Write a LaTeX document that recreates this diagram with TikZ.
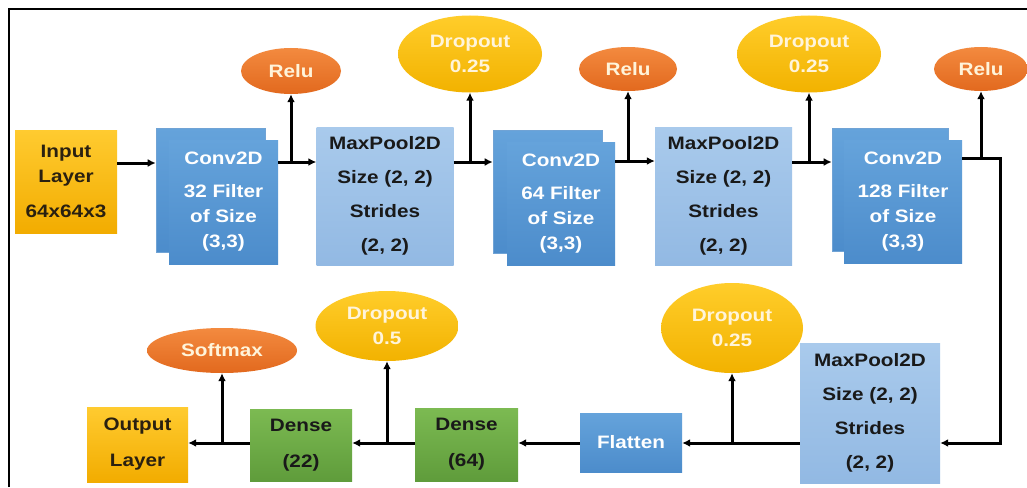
\documentclass[tikz,border=0pt]{standalone}
\usepackage{fontspec}
\setmainfont[FakeStretch=1.15]{Liberation Sans}
\usetikzlibrary{arrows.meta,shapes.geometric}
\definecolor{goldT}{HTML}{FFCB30}
\definecolor{goldB}{HTML}{F2AC00}
\definecolor{convT}{HTML}{65A3DB}
\definecolor{convB}{HTML}{4C8CCB}
\definecolor{poolT}{HTML}{A9CAEC}
\definecolor{poolB}{HTML}{92B9E3}
\definecolor{grnT}{HTML}{7CBA52}
\definecolor{grnB}{HTML}{5F9C3B}
\definecolor{oraT}{HTML}{F38A3F}
\definecolor{oraB}{HTML}{E2691E}
\definecolor{ylwT}{HTML}{FFCD2A}
\definecolor{ylwB}{HTML}{F2B200}
\definecolor{pale}{HTML}{FFF4DA}
\definecolor{darktxt}{HTML}{2A2010}
\tikzset{
  txt/.style={font=\bfseries\fontsize{18}{25}\selectfont, align=center, inner sep=0pt},
  blk/.style={txt, rectangle, draw=none},
  gold/.style={blk, top color=goldT, bottom color=goldB, text=darktxt},
  conv/.style={blk, top color=convT, bottom color=convB, text=white},
  convback/.style={blk, top color=convT, bottom color=convB, draw=convB!80!white, line width=0.6pt},
  pool/.style={blk, top color=poolT, bottom color=poolB, text=black!90},
  dense/.style={blk, top color=grnT, bottom color=grnB, text=black!90},
  relu/.style={txt, ellipse, top color=oraT, bottom color=oraB, text=pale, inner sep=0pt},
  drop/.style={txt, ellipse, top color=ylwT, bottom color=ylwB, text=pale, inner sep=0pt},
  arr/.style={line width=3pt, -{Latex[length=8pt,width=8pt]}}
}
\begin{document}
\begin{tikzpicture}[x=1pt,y=-1pt]
\useasboundingbox (0,0) rectangle (1027,487);
\fill[white] (0,0) rectangle (1027,487);
\draw[line width=2pt] (9,487) -- (9,9) -- (1027,9);

% top row
\node[gold, minimum width=102pt, minimum height=103pt] (in) at (66,181.5)
  {Input\\Layer\\[10pt]64x64x3};
\node[convback, minimum width=109pt, minimum height=124pt] (c1b) at (210.5,190) {};
\node[conv, minimum width=109pt, minimum height=124pt] (c1f) at (223.5,202)
  {Conv2D\\[8pt]32 Filter\\of Size\\(3,3)};
\node[pool, minimum width=137pt, minimum height=138pt] (mp1) at (385,196)
  {MaxPool2D\\[9pt]Size (2, 2)\\[9pt]Strides\\[9pt](2, 2)};
\node[convback, minimum width=109pt, minimum height=123pt] (c2b) at (547.5,191.5) {};
\node[conv, minimum width=108pt, minimum height=123pt] (c2f) at (561,203.5)
  {Conv2D\\[8pt]64 Filter\\of Size\\(3,3)};
\node[pool, minimum width=137pt, minimum height=138pt] (mp2) at (723.5,196)
  {MaxPool2D\\[9pt]Size (2, 2)\\[9pt]Strides\\[9pt](2, 2)};
\node[convback, minimum width=116pt, minimum height=123pt] (c3b) at (890,189.5) {};
\node[conv, minimum width=118pt, minimum height=123pt] (c3f) at (903,201.5)
  {Conv2D\\[8pt]128 Filter\\of Size\\(3,3)};

\node[relu, minimum width=100pt, minimum height=46pt] (r1) at (291,71) {Relu};
\node[drop, minimum width=144pt, minimum height=77pt] (d1) at (470,54) {Dropout\\0.25};
\node[relu, minimum width=98pt, minimum height=44pt] (r2) at (628,69) {Relu};
\node[drop, minimum width=144pt, minimum height=77pt] (d2) at (809,54) {Dropout\\0.25};
\node[relu, minimum width=94pt, minimum height=44pt] (r3) at (981,69) {Relu};

% bottom row
\node[pool, minimum width=140pt, minimum height=140pt] (mp3) at (870,413)
  {MaxPool2D\\[9pt]Size (2, 2)\\[9pt]Strides\\[9pt](2, 2)};
\node[conv, minimum width=102pt, minimum height=59pt] (fl) at (631,442.5) {Flatten};
\node[dense, minimum width=103pt, minimum height=73pt] (de64) at (466.5,444.5) {Dense\\[11pt](64)};
\node[dense, minimum width=102pt, minimum height=72pt] (de22) at (301,445) {Dense\\[11pt](22)};
\node[gold, minimum width=101pt, minimum height=75pt] (out) at (137.5,444.5) {Output\\[11pt]Layer};

\node[drop, minimum width=142pt, minimum height=90pt] (d3) at (732,328) {Dropout\\0.25};
\node[drop, minimum width=143pt, minimum height=70pt] (d4) at (387,326) {Dropout\\0.5};
\node[relu, minimum width=150pt, minimum height=45pt] (sm) at (222,350.5) {Softmax};

\coordinate (t1) at (1000,158);
\coordinate (t2) at (1000,443);

% connectors top row
\draw[arr] (in.east |- 0,163) -- (c1b.west |- 0,163);
\draw[arr] (c1f.east |- 0,162) -- (mp1.west |- 0,162);
\draw[arr] (r1.south |- 0,162) -- (r1.south);
\draw[arr] (mp1.east |- 0,162) -- (c2b.west |- 0,162);
\draw[arr] (d1.south |- 0,162) -- (d1.south);
\draw[arr] (c2f.east |- 0,161) -- (mp2.west |- 0,161);
\draw[arr] (r2.south |- 0,161) -- (r2.south);
\draw[arr] (mp2.east |- 0,162) -- (c3b.west |- 0,162);
\draw[arr] (d2.south |- 0,162) -- (d2.south);
\draw[arr] (c3f.east |- t1) -- (t1) -- (t2) -- (mp3.east |- t2);
\draw[arr] (r3.south |- t1) -- (r3.south);

% connectors bottom row
\draw[arr] (mp3.west |- t2) -- (fl.east |- t2);
\draw[arr] (d3.south |- t2) -- (d3.south);
\draw[arr] (fl.west |- t2) -- (de64.east |- t2);
\draw[arr] (de64.west |- t2) -- (de22.east |- t2);
\draw[arr] (d4.south |- t2) -- (d4.south);
\draw[arr] (de22.west |- t2) -- (out.east |- t2);
\draw[arr] (sm.south |- t2) -- (sm.south);
\end{tikzpicture}
\end{document}
